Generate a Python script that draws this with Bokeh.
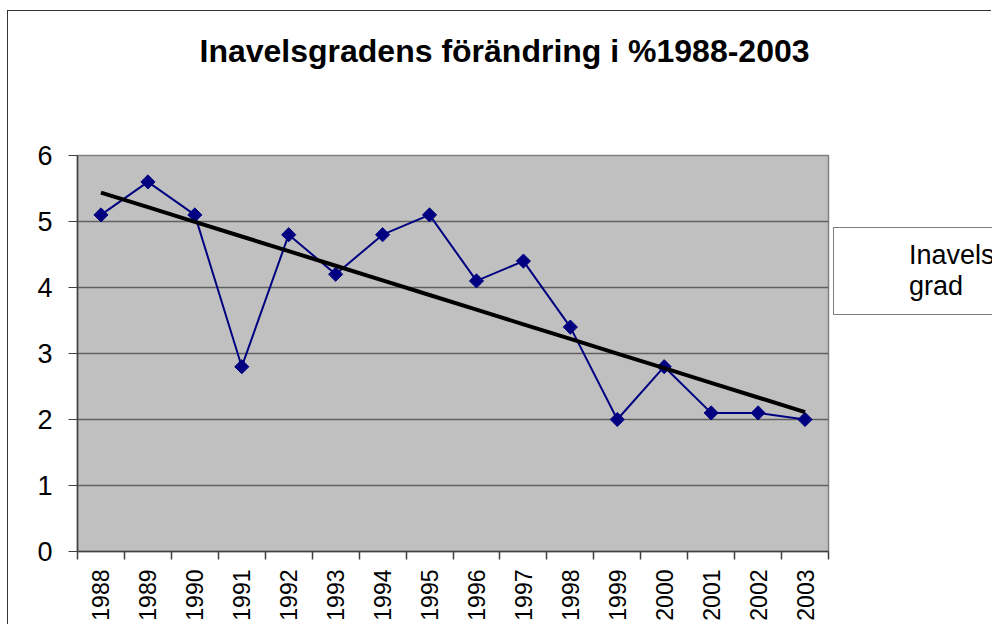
import numpy as np
from bokeh.plotting import figure
from bokeh.layouts import column, row
from bokeh.models import (ColumnDataSource, Range1d, FixedTicker, Label,
                          Legend, LegendItem, Spacer)
from bokeh.embed import file_html
from bokeh.resources import INLINE

# ---- data ----
years = ["1988", "1989", "1990", "1991", "1992", "1993", "1994", "1995",
         "1996", "1997", "1998", "1999", "2000", "2001", "2002", "2003"]
inavelsgrad = [5.1, 5.6, 5.1, 2.8, 4.8, 4.2, 4.8, 5.1,
               4.1, 4.4, 3.4, 2.0, 2.8, 2.1, 2.1, 2.0]
y_ticks = [0, 1, 2, 3, 4, 5, 6]
title_text = "Inavelsgradens förändring i %1988-2003"
series_name = "Inavels\ngrad"

# category positions and linear trend line (least squares fit of the series)
pos = np.arange(len(years))
slope, intercept = np.polyfit(pos, inavelsgrad, 1)
trend = slope * pos + intercept

FONT = "Liberation Sans"
NAVY = "#000080"

src = ColumnDataSource(dict(pos=pos, year=years, val=inavelsgrad, trend=trend))

# ---------------- title strip ----------------
tf = figure(width=984, height=100, x_range=Range1d(0, 1), y_range=Range1d(0, 1),
            min_border=0, x_axis_location=None, y_axis_location=None,
            output_backend="svg", toolbar_location=None)
tf.outline_line_color = None
tf.grid.visible = False
tf.background_fill_color = "white"
tf.border_fill_color = "white"
tf.add_layout(Label(x=496, y=61, x_units="screen", y_units="screen",
                    text=title_text, text_align="center", text_baseline="middle",
                    text_font=FONT, text_font_size="32px",
                    text_font_style="bold", text_color="black"))

# ---------------- main chart ----------------
p = figure(x_range=Range1d(-0.5, len(years) - 0.5), y_range=Range1d(0, 6),
           width=822, height=514,
           min_border_left=69, min_border_right=2,
           min_border_top=44, min_border_bottom=74,
           output_backend="svg", toolbar_location=None)

p.background_fill_color = "#C0C0C0"
p.border_fill_color = "white"
p.outline_line_color = "#808080"
p.outline_line_width = 1.5

# y axis
ya = p.yaxis[0]
ya.ticker = FixedTicker(ticks=y_ticks)
ya.major_tick_out = 9
ya.major_tick_in = 0
ya.minor_tick_out = 0
ya.minor_tick_in = 0
ya.axis_line_color = "#404040"
ya.axis_line_width = 1.5
ya.major_tick_line_color = "#404040"
ya.major_label_text_font = FONT
ya.major_label_text_font_size = "27px"
ya.major_label_text_color = "black"
ya.major_label_standoff = 16

p.ygrid.ticker = FixedTicker(ticks=y_ticks)
p.ygrid.grid_line_color = "#606060"
p.ygrid.grid_line_width = 1.5
p.xgrid.grid_line_color = None

# x axis: labels at category centres, tick marks at category boundaries
xa = p.xaxis[0]
xa.ticker = FixedTicker(ticks=list(pos),
                        minor_ticks=list(pos - 0.5) + [len(years) - 0.5])
xa.major_label_overrides = {int(i): y for i, y in zip(pos, years)}
xa.major_tick_out = 0
xa.major_tick_in = 0
xa.minor_tick_out = 8
xa.minor_tick_in = 0
xa.minor_tick_line_color = "#404040"
xa.minor_tick_line_width = 1.5
xa.axis_line_color = "#404040"
xa.axis_line_width = 1.5
xa.major_label_orientation = np.pi / 2
xa.major_label_standoff = 10
xa.major_label_text_font = FONT
xa.major_label_text_font_size = "23px"
xa.major_label_text_color = "black"

# series
p.line("pos", "val", source=src, line_color=NAVY, line_width=2)
p.scatter("pos", "val", source=src, marker="square", angle=np.pi / 4,
          size=10, fill_color=NAVY, line_color=NAVY)
p.line("pos", "trend", source=src, line_color="black", line_width=4)

# ---------------- legend panel ----------------
lf = figure(width=162, height=401, x_range=Range1d(0, 1), y_range=Range1d(0, 1),
            min_border=0, x_axis_location=None, y_axis_location=None,
            output_backend="svg", toolbar_location=None)
lf.outline_line_color = None
lf.grid.visible = False
lf.background_fill_color = "white"
lf.border_fill_color = "white"
leg_line = lf.line(x=[], y=[], line_color=NAVY, line_width=2)
leg_mark = lf.scatter(x=[], y=[], marker="diamond", size=15,
                      fill_color=NAVY, line_color=NAVY)
legend = Legend(items=[LegendItem(label=series_name, renderers=[leg_line, leg_mark])],
                location="top_left")
legend.border_line_color = "black"
legend.border_line_width = 1
legend.background_fill_color = "white"
legend.background_fill_alpha = 1
legend.label_text_font = FONT
legend.label_text_font_size = "27px"
legend.label_text_color = "black"
legend.glyph_width = 55
legend.glyph_height = 24
legend.label_standoff = 8
legend.padding = 12
legend.margin = 3
lf.add_layout(legend)

legend_col = column(Spacer(width=162, height=113), lf)

layout = column(tf, row(p, legend_col))
layout.styles = {"margin-left": "8px", "margin-top": "11px",
                 "box-shadow": "-1px -1px 0 0 #333333"}

open("out.html", "w").write(file_html(layout, INLINE))
